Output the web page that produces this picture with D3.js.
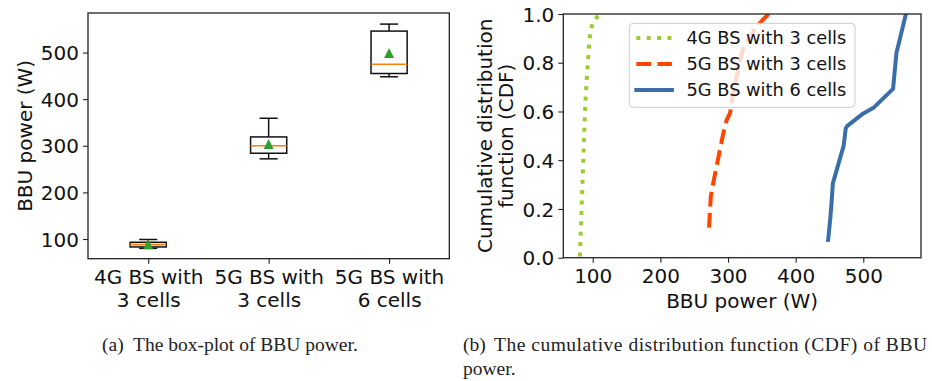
<!DOCTYPE html>
<html>
<head>
<meta charset="utf-8">
<script src="https://cdn.jsdelivr.net/npm/d3@7"></script>
<style>
  html, body { margin: 0; padding: 0; background: #fff; }
  svg { display: block; }
  .tick text { font-family: "DejaVu Sans", sans-serif; }
</style>
</head>
<body>
<svg id="fig" width="932" height="381"></svg>
<script>
// ---- Box plot data (BBU power, W) ----
const categories = ["4G BS with 3 cells", "5G BS with 3 cells", "5G BS with 6 cells"];
const whiskerLow  = [80, 272, 448];
const quartile1   = [83, 284, 455];
const medians     = [88, 300, 475];
const quartile3   = [93, 319, 546];
const whiskerHigh = [99, 359, 561];
const means       = [89, 304, 499];
const boxYTicks   = [100, 200, 300, 400, 500];

// ---- CDF data ----
const cdf4gPower = [81, 83.5, 86, 88.5, 91, 93, 95, 97, 101, 111];
const cdf4gProb  = [0.005, 0.2, 0.4, 0.6, 0.73, 0.81, 0.89, 0.935, 0.972, 1.0];
const cdf5g3Power = [272, 274.5, 278, 283, 288, 293, 298, 303, 306, 317, 323, 342, 350, 360];
const cdf5g3Prob  = [0.123, 0.25, 0.305, 0.373, 0.442, 0.51, 0.565, 0.593, 0.647, 0.8, 0.866, 0.948, 0.972, 1.0];
const cdf5g6Power = [448, 451, 453, 455, 471, 474, 476, 500, 515, 544, 549, 563];
const cdf5g6Prob  = [0.073, 0.155, 0.223, 0.305, 0.46, 0.53, 0.54, 0.592, 0.615, 0.693, 0.84, 1.0];
const cdfXTicks = [100, 200, 300, 400, 500];
const cdfYTicks = [0, 0.2, 0.4, 0.6, 0.8, 1.0];

const seriesNames = ["4G BS with 3 cells", "5G BS with 3 cells", "5G BS with 6 cells"];
const seriesColors = ["#9acd32", "#ff4500", "#3a6ea8"];
const seriesDash = ["4,6.4", "14.8,6.4", null];

const FONT = "DejaVu Sans, sans-serif";
const svg = d3.select("#fig");

function frame(g, x0, x1, y0, y1) {
  g.append("rect")
    .attr("x", x0).attr("y", y0)
    .attr("width", x1 - x0).attr("height", y1 - y0)
    .attr("fill", "none").attr("stroke", "#222").attr("stroke-width", 1.3);
}

function styleAxis(sel) {
  sel.select(".domain").remove();
  sel.selectAll(".tick line").attr("stroke", "#222").attr("stroke-width", 1.1);
  sel.selectAll(".tick text").attr("fill", "#111").attr("font-size", 20).attr("font-family", FONT);
}

// ================= (a) Box plot =================
{
  const L = 88, R = 449.3, T = 13, B = 258.7;
  const x = d3.scaleLinear().domain([0.5, 3.5]).range([L, R]);
  const y = d3.scaleLinear().domain([57.8, 584.8]).range([B, T]);
  const g = svg.append("g");

  const yAx = g.append("g").attr("transform", `translate(${L},0)`)
    .call(d3.axisLeft(y).tickValues(boxYTicks).tickSize(5).tickPadding(4).tickFormat(d3.format("d")));
  styleAxis(yAx);
  yAx.selectAll(".tick text").attr("dy", "0.36em");

  const xAx = g.append("g").attr("transform", `translate(0,${B})`)
    .call(d3.axisBottom(x).tickValues([1, 2, 3]).tickSize(5).tickFormat(""));
  styleAxis(xAx);
  xAx.selectAll(".tick").each(function(d) {
    const parts = categories[d - 1].split(" with ");
    const t = d3.select(this).append("text")
      .attr("fill", "#111").attr("font-size", 20).attr("font-family", FONT)
      .attr("text-anchor", "middle");
    t.append("tspan").attr("x", 0).attr("y", 25.3).text(parts[0] + " with");
    t.append("tspan").attr("x", 0).attr("y", 48.3).text(parts[1]);
  });

  g.append("text")
    .attr("transform", `translate(31.7,${(T + B) / 2}) rotate(-90)`)
    .attr("text-anchor", "middle").attr("font-size", 20).attr("font-family", FONT).attr("fill", "#111")
    .text("BBU power (W)");

  const boxW = x(1.3) - x(1);
  const capW = boxW / 2;
  categories.forEach((c, i) => {
    const cx = x(i + 1);
    const bg = g.append("g");
    // whiskers
    bg.append("line").attr("x1", cx).attr("x2", cx).attr("y1", y(whiskerLow[i])).attr("y2", y(quartile1[i]));
    bg.append("line").attr("x1", cx).attr("x2", cx).attr("y1", y(quartile3[i])).attr("y2", y(whiskerHigh[i]));
    // caps
    bg.append("line").attr("x1", cx - capW / 2).attr("x2", cx + capW / 2).attr("y1", y(whiskerLow[i])).attr("y2", y(whiskerLow[i]));
    bg.append("line").attr("x1", cx - capW / 2).attr("x2", cx + capW / 2).attr("y1", y(whiskerHigh[i])).attr("y2", y(whiskerHigh[i]));
    bg.selectAll("line").attr("stroke", "#111").attr("stroke-width", 1.5);
    // box
    bg.append("rect")
      .attr("x", cx - boxW / 2).attr("width", boxW)
      .attr("y", y(quartile3[i])).attr("height", y(quartile1[i]) - y(quartile3[i]))
      .attr("fill", "none").attr("stroke", "#111").attr("stroke-width", 1.5);
    // median
    bg.append("line")
      .attr("x1", cx - boxW / 2).attr("x2", cx + boxW / 2)
      .attr("y1", y(medians[i])).attr("y2", y(medians[i]))
      .attr("stroke", "#ff7f0e").attr("stroke-width", 1.6);
    // mean marker
    const my = y(means[i]), h = 5;
    const p = d3.path();
    p.moveTo(cx, my - h); p.lineTo(cx - h, my + h); p.lineTo(cx + h, my + h); p.closePath();
    bg.append("path").attr("d", p.toString()).attr("fill", "#2ca02c");
  });

  frame(g, L, R, T, B);
}

// ================= (b) CDF =================
{
  const L = 563.3, R = 921, T = 14, B = 257.7;
  const x = d3.scaleLinear().domain([56.5, 585.3]).range([L, R]);
  const y = d3.scaleLinear().domain([0, 1]).range([B, T]);
  const g = svg.append("g");

  g.append("clipPath").attr("id", "cdfClip")
    .append("rect").attr("x", L).attr("y", T).attr("width", R - L).attr("height", B - T);

  const yAx = g.append("g").attr("transform", `translate(${L},0)`)
    .call(d3.axisLeft(y).tickValues(cdfYTicks).tickSize(5).tickPadding(4).tickFormat(d3.format(".1f")));
  styleAxis(yAx);
  yAx.selectAll(".tick text").attr("dy", "0.36em");

  const xAx = g.append("g").attr("transform", `translate(0,${B})`)
    .call(d3.axisBottom(x).tickValues(cdfXTicks).tickSize(5).tickPadding(6).tickFormat(d3.format("d")));
  styleAxis(xAx);

  const yl = g.append("text")
    .attr("text-anchor", "middle").attr("font-size", 20).attr("font-family", FONT).attr("fill", "#111")
    .attr("transform", `translate(491.7,${(T + B) / 2}) rotate(-90)`);
  yl.append("tspan").attr("x", 0).attr("y", 0).text("Cumulative distribution");
  yl.append("tspan").attr("x", 0).attr("y", 21.6).text("function (CDF)");

  g.append("text")
    .attr("x", (L + R) / 2).attr("y", 307.5)
    .attr("text-anchor", "middle").attr("font-size", 20).attr("font-family", FONT).attr("fill", "#111")
    .text("BBU power (W)");

  const seriesData = [
    d3.zip(cdf4gPower, cdf4gProb),
    d3.zip(cdf5g3Power, cdf5g3Prob),
    d3.zip(cdf5g6Power, cdf5g6Prob)
  ];
  const line = d3.line().x(d => x(d[0])).y(d => y(d[1]));
  const lg = g.append("g").attr("clip-path", "url(#cdfClip)");
  seriesData.forEach((data, i) => {
    lg.append("path")
      .attr("d", line(data))
      .attr("fill", "none")
      .attr("stroke", seriesColors[i])
      .attr("stroke-width", 4)
      .attr("stroke-linejoin", "round")
      .attr("stroke-linecap", seriesDash[i] ? "butt" : "square")
      .attr("stroke-dasharray", seriesDash[i]);
  });

  frame(g, L, R, T, B);

  // legend
  const leg = g.append("g");
  leg.append("rect")
    .attr("x", 629.3).attr("y", 23.3).attr("width", 225.7).attr("height", 84).attr("rx", 4)
    .attr("fill", "#fff").attr("fill-opacity", 0.8)
    .attr("stroke", "#cccccc").attr("stroke-width", 1);
  seriesNames.forEach((name, i) => {
    const cy = 37.9 + i * 26;
    leg.append("line")
      .attr("x1", 636.3).attr("x2", 671.9).attr("y1", cy).attr("y2", cy)
      .attr("stroke", seriesColors[i]).attr("stroke-width", 4)
      .attr("stroke-linecap", seriesDash[i] ? "butt" : "square")
      .attr("stroke-dasharray", seriesDash[i]);
    leg.append("text")
      .attr("x", 686.5).attr("y", cy + 6.4)
      .attr("font-size", 17.8).attr("font-family", FONT).attr("fill", "#111")
      .text(name);
  });
}

// ================= Captions =================
{
  const cap = svg.append("g")
    .attr("font-family", "Liberation Serif, Times New Roman, serif")
    .attr("font-size", 19.5).attr("fill", "#222");
  cap.append("text").attr("x", 102).attr("y", 351).text("(a)");
  cap.append("text").attr("x", 133).attr("y", 351).text("The box-plot of BBU power.");
  cap.append("text").attr("x", 463).attr("y", 351).text("(b)");
  cap.append("text").attr("x", 494).attr("y", 351)
    .attr("textLength", 433).attr("lengthAdjust", "spacing")
    .text("The cumulative distribution function (CDF) of BBU");
  cap.append("text").attr("x", 463).attr("y", 375).text("power.");
}
</script>
</body>
</html>
